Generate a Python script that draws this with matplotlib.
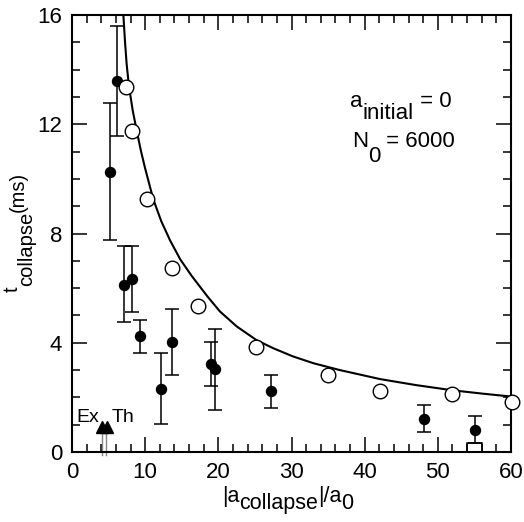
"""Collapse time vs |a_collapse|/a0: measured points, simulation circles, theory curve."""

import matplotlib

matplotlib.use("Agg")
import matplotlib.pyplot as plt
import numpy as np
from matplotlib.ticker import MultipleLocator

plt.rcParams["font.family"] = ["Liberation Sans", "DejaVu Sans"]

# measured points (filled) with error bar ends
meas_x = [5.15, 6.19, 7.15, 8.2, 9.25, 12.16, 13.67, 19.04, 19.6, 27.2, 48.06, 55.08]
meas_t = [10.25, 13.58, 6.13, 6.33, 4.24, 2.32, 4.03, 3.23, 3.04, 2.22, 1.22, 0.82]
meas_lo = [7.76, 11.57, 4.77, 5.14, 3.63, 1.04, 2.83, 2.42, 1.53, 1.62, 0.72, 0.32]
meas_hi = [12.78, 15.6, 7.55, 7.55, 4.82, 3.61, 5.22, 4.03, 4.52, 2.82, 1.73, 1.33]

# simulation (open circles)
sim_x = [7.34, 8.16, 10.2, 13.6, 17.2, 25.1, 35.0, 42.1, 52.0, 60.1]
sim_t = [13.35, 11.76, 9.25, 6.75, 5.35, 3.83, 2.83, 2.22, 2.12, 1.82]

# theory curve
curve_x = [7.02, 7.25, 7.47, 7.79, 8.3, 8.84, 9.4, 9.98, 11.1, 12.2, 13.4, 14.8,
           16.35, 18.5, 20.2, 22.5, 25.2, 27.5, 30.2, 33.0, 36.6, 42.1, 47.0, 52.0, 56.0, 60.0]
curve_t = [16.0, 15.0, 14.2, 13.38, 12.5, 11.77, 11.05, 10.4, 9.26, 8.45, 7.75, 7.05,
           6.45, 5.7, 5.15, 4.6, 4.1, 3.8, 3.5, 3.25, 3.0, 2.67, 2.45, 2.26, 2.14, 2.03]

# "Ex" / "Th" markers
mark_x = [4.06, 4.74]
mark_t = [0.93, 0.93]
stem_x = [4.06, 4.6]

# small box at the bottom near x = 55
box_x = [55.0]
box_h = [0.33]


def pieces(ax, xy, parts, size, rotation=0):
    """Chain text pieces; parts = [(text, baseline shift in pt)]. Sub/sup keep full size."""
    prev, prev_dy = None, 0.0
    for s, dy in parts:
        if rotation == 0:
            if prev is None:
                prev = ax.annotate(s, xy=xy, xycoords="figure pixels", xytext=(0, dy),
                                   textcoords="offset points", ha="left", va="baseline",
                                   fontsize=size)
            else:
                prev = ax.annotate(s, xy=(1, 0), xycoords=prev, xytext=(0, dy - prev_dy),
                                   textcoords="offset points", ha="left", va="bottom",
                                   fontsize=size)
        else:
            if prev is None:
                prev = ax.annotate(s, xy=xy, xycoords="figure pixels", xytext=(-dy, 0),
                                   textcoords="offset points", ha="right", va="bottom",
                                   rotation=90, fontsize=size)
            else:
                prev = ax.annotate(s, xy=(1, 1), xycoords=prev, xytext=(-(dy - prev_dy), 0),
                                   textcoords="offset points", ha="right", va="bottom",
                                   rotation=90, fontsize=size)
        prev_dy = dy
    return prev


fig = plt.figure(figsize=(5.24, 5.22), dpi=100)
ax = fig.add_axes([72 / 524, 70 / 522, 439 / 524, 437 / 522])

x = np.array(meas_x)
t = np.array(meas_t)
yerr = [t - np.array(meas_lo), np.array(meas_hi) - t]
ax.errorbar(x, t, yerr=yerr, fmt="o", color="black", ms=7.2, elinewidth=1.1,
            capsize=5, capthick=1.1, zorder=3)

ax.plot(curve_x, curve_t, color="black", lw=1.5, zorder=2)
ax.plot(sim_x, sim_t, "o", mfc="white", mec="black", mew=1.0, ms=10.5,
        zorder=4, clip_on=False)

ax.bar(box_x, box_h, width=2.0, fill=False, edgecolor="black", lw=1.1, zorder=3)

for sx in stem_x:
    ax.plot([sx, sx], [-0.12, 0.75], color="#888888", lw=1.0, clip_on=False, zorder=1)
ax.plot(mark_x, mark_t, "^", color="black", ms=8.5, zorder=5)
ax.text(0.6, 1.11, "Ex", fontsize=14)
ax.text(5.35, 1.11, "Th", fontsize=14)

ax.set_xlim(0, 60)
ax.set_ylim(0, 16)
ax.xaxis.set_major_locator(MultipleLocator(10))
ax.xaxis.set_minor_locator(MultipleLocator(2))
ax.yaxis.set_major_locator(MultipleLocator(4))
ax.yaxis.set_minor_locator(MultipleLocator(1))
ax.tick_params(which="both", direction="in", top=True, right=True, width=1.1,
               labelsize=16, pad=7)
ax.tick_params(which="major", length=11)
ax.tick_params(which="minor", length=5.8)
for sp in ax.spines.values():
    sp.set_linewidth(1.5)

# annotations (figure pixels measured from the bottom-left)
pieces(ax, (350, 522 - 107), [("a", 0), ("initial", -8.4), (" = 0", 0)], 16)
pieces(ax, (352, 522 - 147), [("N", 0), ("0", -11), (" = 6000", 0)], 16)

# axis labels
pieces(ax, (222, 522 - 502), [("|a", 0), ("collapse", -5), ("|/a", 0), ("0", -5)], 15.5)
pieces(ax, (22, 522 - 292), [("t", 0), ("collapse", -10), ("(ms)", -4.5)], 14.5, rotation=90)

fig.savefig("out.png", dpi=100)
